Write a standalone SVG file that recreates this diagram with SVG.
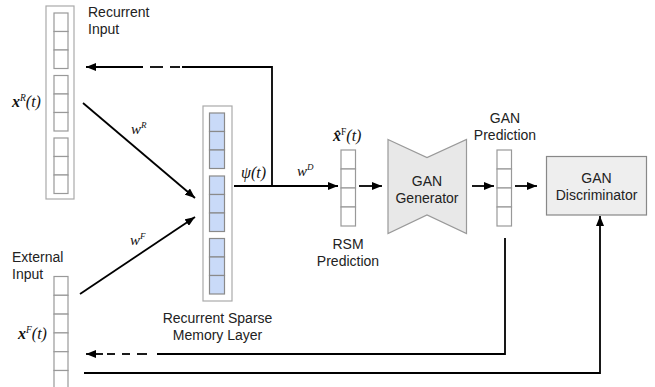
<svg xmlns="http://www.w3.org/2000/svg" width="655" height="387" viewBox="0 0 655 387">
<defs>
<style>
.lbl{font-family:"Liberation Sans",Arial,sans-serif;font-size:14px;fill:#222}
.math{font-family:"Liberation Serif","Times New Roman",serif;font-style:italic;fill:#111}
.cell{fill:#fff;stroke:#999;stroke-width:1.2}
.bcell{fill:#c9daf8;stroke:#8a8a8a;stroke-width:1.2}
.outer{fill:#fff;stroke:#aaa;stroke-width:1.2}
.ln{fill:none;stroke:#000;stroke-width:1.8}
.gshape{fill:#e8e8e8;stroke:#999;stroke-width:1.2}
</style>
<marker id="arr" viewBox="0 0 10 8" refX="10" refY="4" markerWidth="10" markerHeight="8" orient="auto" markerUnits="userSpaceOnUse">
<path d="M0,0 L10,4 L0,8 Z" fill="#000"/>
</marker>
</defs>
<rect width="655" height="387" fill="#fff"/>

<g id="recurrent-input">
<rect class="outer" x="46" y="6" width="28" height="193"/>
<rect class="cell" x="54" y="13" width="14" height="18.5"/>
<rect class="cell" x="54" y="31.5" width="14" height="18.5"/>
<rect class="cell" x="54" y="50" width="14" height="18.5"/>
<rect class="cell" x="54" y="75.5" width="14" height="18.5"/>
<rect class="cell" x="54" y="94" width="14" height="18.5"/>
<rect class="cell" x="54" y="112.5" width="14" height="18.5"/>
<rect class="cell" x="54" y="138" width="14" height="18.5"/>
<rect class="cell" x="54" y="156.5" width="14" height="18.5"/>
<rect class="cell" x="54" y="175" width="14" height="18.5"/>
<text class="lbl" x="88" y="17">Recurrent</text>
<text class="lbl" x="88" y="34">Input</text>
<text class="math" x="12" y="107" font-size="16"><tspan font-weight="bold">x</tspan><tspan font-size="9.5" dy="-6">R</tspan><tspan dy="6">(t)</tspan></text>
</g>

<g id="external-input">
<rect class="cell" x="54" y="276.5" width="14" height="18.8"/>
<rect class="cell" x="54" y="295.3" width="14" height="18.8"/>
<rect class="cell" x="54" y="314.1" width="14" height="18.8"/>
<rect class="cell" x="54" y="332.9" width="14" height="18.8"/>
<rect class="cell" x="54" y="351.7" width="14" height="18.8"/>
<rect class="cell" x="54" y="370.5" width="14" height="18.8"/>
<text class="lbl" x="12" y="262">External</text>
<text class="lbl" x="12" y="279">Input</text>
<text class="math" x="18" y="339" font-size="16"><tspan font-weight="bold">x</tspan><tspan font-size="9.5" dy="-6">F</tspan><tspan dy="6">(t)</tspan></text>
</g>

<g id="rsm-layer">
<rect class="outer" x="203" y="106" width="29" height="195"/>
<rect class="bcell" x="209.5" y="113" width="15" height="18.5"/>
<rect class="bcell" x="209.5" y="131.5" width="15" height="18.5"/>
<rect class="bcell" x="209.5" y="150" width="15" height="18.5"/>
<rect class="bcell" x="209.5" y="176" width="15" height="18.5"/>
<rect class="bcell" x="209.5" y="194.5" width="15" height="18.5"/>
<rect class="bcell" x="209.5" y="213" width="15" height="18.5"/>
<rect class="bcell" x="209.5" y="238.5" width="15" height="18.5"/>
<rect class="bcell" x="209.5" y="257" width="15" height="18.5"/>
<rect class="bcell" x="209.5" y="275.5" width="15" height="18.5"/>
<text class="lbl" x="217.5" y="323" text-anchor="middle">Recurrent Sparse</text>
<text class="lbl" x="217.5" y="340" text-anchor="middle">Memory Layer</text>
</g>

<g id="rsm-prediction">
<rect class="cell" x="341" y="150" width="14.5" height="19"/>
<rect class="cell" x="341" y="169" width="14.5" height="19"/>
<rect class="cell" x="341" y="188" width="14.5" height="19"/>
<rect class="cell" x="341" y="207" width="14.5" height="19"/>
<text class="math" x="333" y="141" font-size="16"><tspan font-weight="bold">x̂</tspan><tspan font-size="9.5" dy="-6" font-style="normal">F</tspan><tspan dy="6">(t)</tspan></text>
<text class="lbl" x="348" y="249" text-anchor="middle">RSM</text>
<text class="lbl" x="348" y="266" text-anchor="middle">Prediction</text>
</g>

<g id="gan-generator">
<path class="gshape" d="M388,139.5 L427,157.5 L466.5,139.5 L466.5,233.5 L427,215 L388,233.5 Z"/>
<text class="lbl" x="427" y="186" text-anchor="middle">GAN</text>
<text class="lbl" x="427" y="203" text-anchor="middle">Generator</text>
</g>

<g id="gan-prediction">
<rect class="cell" x="497" y="150" width="14.5" height="19"/>
<rect class="cell" x="497" y="169" width="14.5" height="19"/>
<rect class="cell" x="497" y="188" width="14.5" height="19"/>
<rect class="cell" x="497" y="207" width="14.5" height="19"/>
<text class="lbl" x="505" y="123" text-anchor="middle">GAN</text>
<text class="lbl" x="505" y="140" text-anchor="middle">Prediction</text>
</g>

<g id="gan-discriminator">
<rect x="546.5" y="156.5" width="100" height="58.5" fill="#eeeeee" stroke="#888" stroke-width="1.2"/>
<text class="lbl" x="596.5" y="183" text-anchor="middle">GAN</text>
<text class="lbl" x="596.5" y="200" text-anchor="middle">Discriminator</text>
</g>

<g id="connectors">
<path class="ln" d="M272,186 V67 H182"/>
<line class="ln" x1="180" y1="67" x2="170" y2="67"/>
<line class="ln" x1="163" y1="67" x2="150" y2="67"/>
<line class="ln" x1="143" y1="67" x2="86" y2="67" marker-end="url(#arr)"/>
<text class="math" x="131" y="134" font-size="15">w<tspan font-size="9" dy="-6">R</tspan></text>
<line class="ln" x1="83" y1="103" x2="195" y2="198" marker-end="url(#arr)"/>
<line class="ln" x1="80" y1="294" x2="195" y2="217" marker-end="url(#arr)"/>
<text class="math" x="130" y="245" font-size="15">w<tspan font-size="9" dy="-6">F</tspan></text>
<line class="ln" x1="234" y1="186" x2="338" y2="186" marker-end="url(#arr)"/>
<text class="math" x="241" y="178" font-size="16">ψ(t)</text>
<text class="math" x="297" y="176" font-size="15">w<tspan font-size="9" dy="-6">D</tspan></text>
<line class="ln" x1="359" y1="186" x2="382" y2="186" marker-end="url(#arr)"/>
<line class="ln" x1="472" y1="186" x2="494" y2="186" marker-end="url(#arr)"/>
<line class="ln" x1="515" y1="186" x2="537" y2="186" marker-end="url(#arr)"/>
<path class="ln" d="M505,238 V354 H157"/>
<line class="ln" x1="147" y1="354" x2="137" y2="354"/>
<line class="ln" x1="130" y1="354" x2="122" y2="354"/>
<line class="ln" x1="115" y1="354" x2="107" y2="354"/>
<line class="ln" x1="103" y1="354" x2="86" y2="354" marker-end="url(#arr)"/>
<path class="ln" d="M84,373 H600 V216" marker-end="url(#arr)"/>
</g>
</svg>
